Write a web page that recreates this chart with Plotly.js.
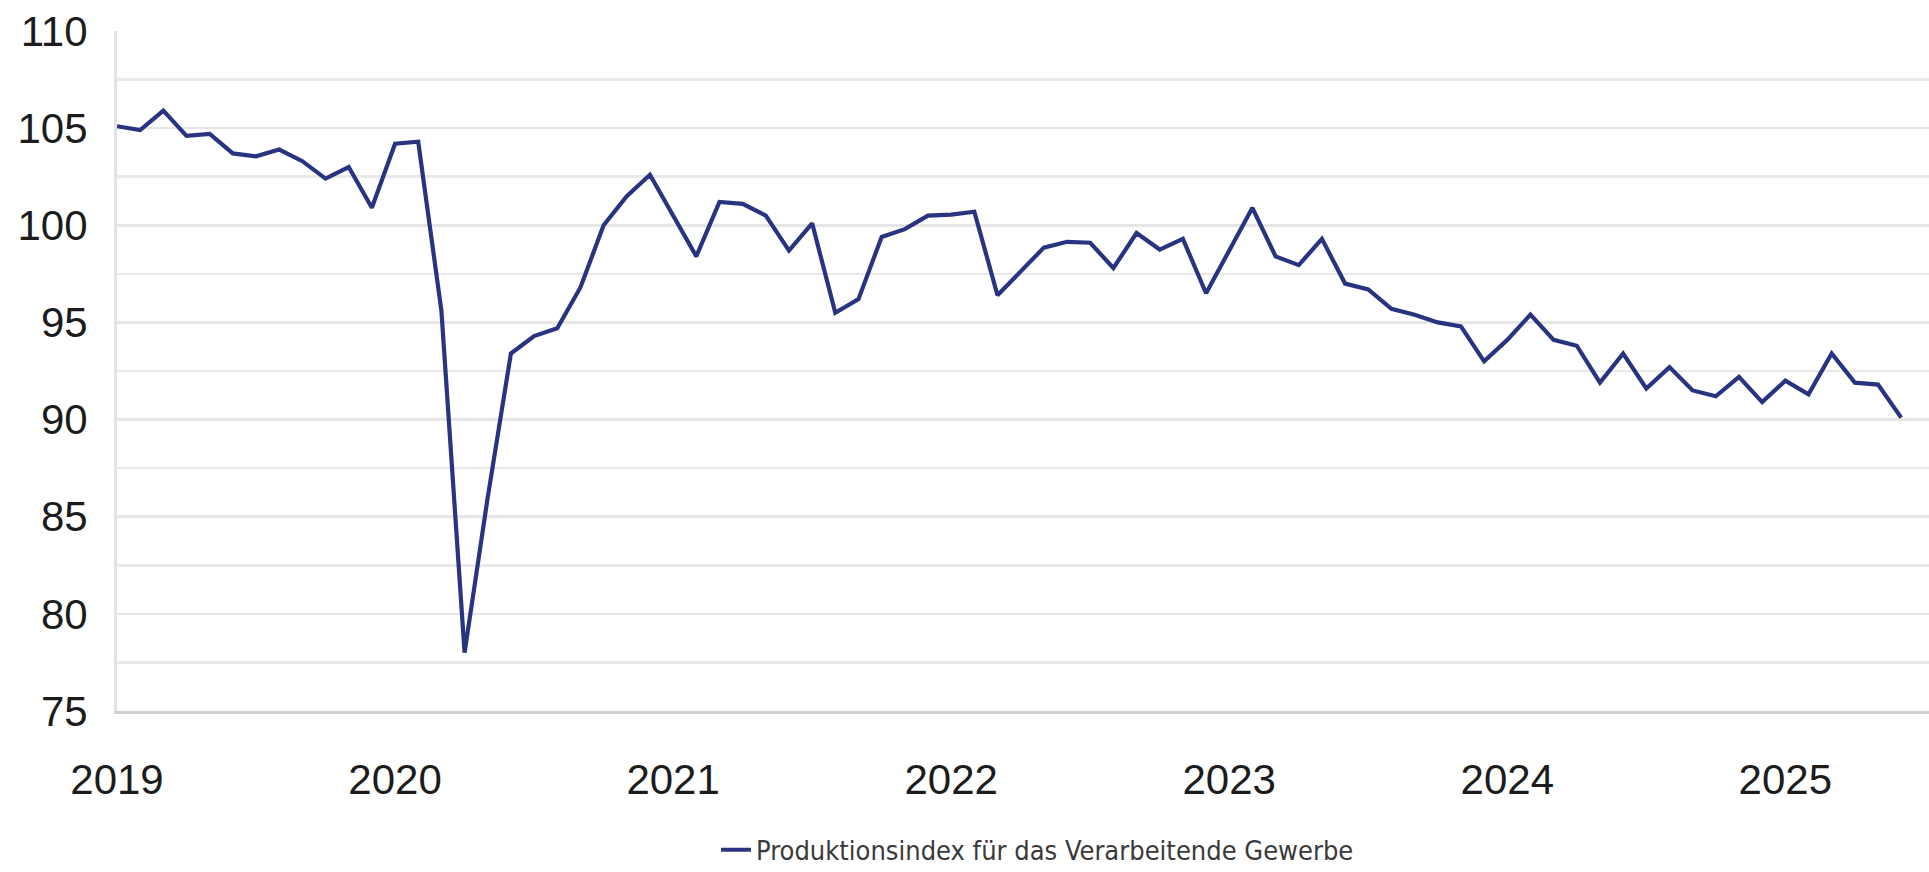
<!DOCTYPE html>
<html>
<head>
<meta charset="utf-8">
<script src="https://cdn.plot.ly/plotly-3.0.1.min.js"></script>
<style>
  html, body { margin: 0; padding: 0; background: #ffffff; }
  #chart { width: 1929px; height: 872px; }
</style>
</head>
<body>
<div id="chart"></div>
<script>
// Monthly categories (Jan 2019 – Jun 2025)
const months = [
  '2019-01','2019-02','2019-03','2019-04','2019-05','2019-06','2019-07','2019-08','2019-09','2019-10','2019-11','2019-12',
  '2020-01','2020-02','2020-03','2020-04','2020-05','2020-06','2020-07','2020-08','2020-09','2020-10','2020-11','2020-12',
  '2021-01','2021-02','2021-03','2021-04','2021-05','2021-06','2021-07','2021-08','2021-09','2021-10','2021-11','2021-12',
  '2022-01','2022-02','2022-03','2022-04','2022-05','2022-06','2022-07','2022-08','2022-09','2022-10','2022-11','2022-12',
  '2023-01','2023-02','2023-03','2023-04','2023-05','2023-06','2023-07','2023-08','2023-09','2023-10','2023-11','2023-12',
  '2024-01','2024-02','2024-03','2024-04','2024-05','2024-06','2024-07','2024-08','2024-09','2024-10','2024-11','2024-12',
  '2025-01','2025-02','2025-03','2025-04','2025-05','2025-06'
];

// Produktionsindex für das Verarbeitende Gewerbe
const produktionsindex = [
  105.1, 104.9, 105.9, 104.6, 104.7, 103.7, 103.55, 103.9, 103.3, 102.4, 103.0, 100.9,
  104.2, 104.3, 95.6, 78.0, 86.0, 93.4, 94.3, 94.7, 96.8, 100.0, 101.5, 102.6,
  100.5, 98.4, 101.2, 101.1, 100.5, 98.7, 100.1, 95.5, 96.2, 99.4, 99.8, 100.5,
  100.55, 100.7, 96.4, 97.6, 98.85, 99.15, 99.1, 97.8, 99.6, 98.75, 99.3, 96.5,
  98.7, 100.9, 98.4, 97.95, 99.3, 97.0, 96.7, 95.7, 95.4, 95.0, 94.8, 93.0,
  94.1, 95.4, 94.1, 93.8, 91.9, 93.4, 91.6, 92.7, 91.5, 91.2, 92.2, 90.9,
  92.0, 91.3, 93.4, 91.9, 91.8, 90.1
];

// X tick labels
const yearTickVals = ['2019-01','2020-01','2021-01','2022-01','2023-01','2024-01','2025-01'];
const yearTickText = ['2019','2020','2021','2022','2023','2024','2025'];

const seriesName = 'Produktionsindex für das Verarbeitende Gewerbe';

const trace = {
  x: months,
  y: produktionsindex,
  type: 'scatter',
  mode: 'lines',
  name: seriesName,
  line: { color: '#283480', width: 4.2 },
  hoverinfo: 'x+y'
};

const layout = {
  width: 1929,
  height: 872,
  paper_bgcolor: '#ffffff',
  plot_bgcolor: '#ffffff',
  margin: { l: 117, r: 0, t: 31, b: 161 },
  showlegend: true,
  legend: {
    orientation: 'h',
    xref: 'paper',
    x: 0.508, xanchor: 'center',
    yref: 'container',
    y: 0.025, yanchor: 'middle',
    font: { family: '"DejaVu Sans Condensed", "Liberation Sans Narrow", sans-serif', size: 27, color: '#3a3a3a' },
    bgcolor: 'rgba(0,0,0,0)'
  },
  xaxis: {
    type: 'category',
    range: [0, 78.2],
    tickmode: 'array',
    tickvals: yearTickVals,
    ticktext: yearTickText,
    ticks: '',
    showgrid: false,
    zeroline: false,
    showline: true,
    linecolor: '#d0d0d0',
    linewidth: 3,
    ticklabelstandoff: 30,
    tickfont: { family: '"Liberation Sans", Arial, sans-serif', size: 42, color: '#1c1c1c' }
  },
  yaxis: {
    range: [75, 110],
    tickmode: 'linear',
    tick0: 75,
    dtick: 5,
    ticks: '',
    showgrid: true,
    gridcolor: '#e6e6e6',
    gridwidth: 2.5,
    minor: { dtick: 2.5, showgrid: true, gridcolor: '#e9e9e9', gridwidth: 2.5 },
    zeroline: false,
    showline: true,
    linecolor: '#e3e3e3',
    linewidth: 3,
    ticklabelstandoff: 18,
    tickfont: { family: '"Liberation Sans", Arial, sans-serif', size: 42, color: '#1c1c1c' }
  }
};

Plotly.newPlot('chart', [trace], layout, { displayModeBar: false, staticPlot: true });
</script>
</body>
</html>
